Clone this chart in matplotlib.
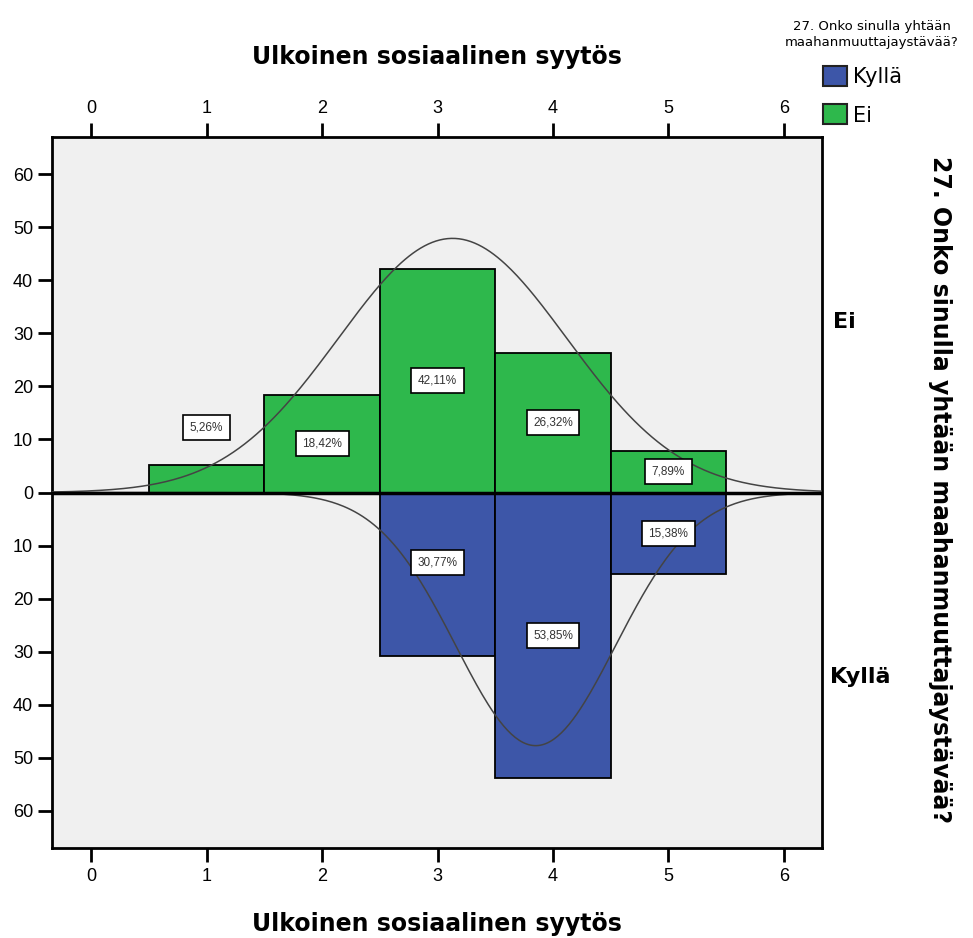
import numpy as np
import matplotlib
matplotlib.use("Agg")
import matplotlib.pyplot as plt
from matplotlib.patches import Patch

plt.rcParams['font.family'] = ['Liberation Sans', 'DejaVu Sans']

# data (percent per score, split by group)
scores = [1, 2, 3, 4, 5]
ei_pct = [5.26, 18.42, 42.11, 26.32, 7.89]
kylla_scores = [3, 4, 5]
kylla_pct = [30.77, 53.85, 15.38]

# fitted normal curves (mean, sd, peak height as seen on the chart)
ei_mean, ei_sd, ei_peak = 3.13, 0.99, 47.9
ky_mean, ky_sd, ky_peak = 3.85, 0.69, 47.7

green = '#2EB84C'
blue = '#3D56A8'
title_font = 'DejaVu Sans'

fig = plt.figure(figsize=(9.73, 9.38), dpi=100)
ax = fig.add_axes([0.0534, 0.0959, 0.7914, 0.758])
ax.set_facecolor('#f0f0f0')

ax.bar(scores, ei_pct, width=1.0, color=green, edgecolor='black', linewidth=1.3, zorder=2)
ax.bar(kylla_scores, [-v for v in kylla_pct], width=1.0, color=blue, edgecolor='black',
       linewidth=1.3, zorder=2)

xs = np.linspace(-0.34, 6.33, 400)
ax.plot(xs, ei_peak * np.exp(-(xs - ei_mean) ** 2 / (2 * ei_sd ** 2)), color='#444444', lw=1.1, zorder=3)
ax.plot(xs, -ky_peak * np.exp(-(xs - ky_mean) ** 2 / (2 * ky_sd ** 2)), color='#444444', lw=1.1, zorder=3)
ax.axhline(0, color='black', lw=2.5, zorder=4)

box = dict(boxstyle='square,pad=0.55', fc='white', ec='black', lw=1.2)
for s, v in zip(scores, ei_pct):
    ly = v / 2 if v > 6 else v + 7
    ax.text(s, ly, f'{v:.2f}%'.replace('.', ','), ha='center', va='center', fontsize=8.5,
            color='#333333', bbox=box, zorder=5)
for s, v in zip(kylla_scores, kylla_pct):
    ly = -v / 2 if v < 30 or v > 50 else -v / 2 + 2.2
    ax.text(s, ly, f'{v:.2f}%'.replace('.', ','), ha='center', va='center', fontsize=8.5,
            color='#333333', bbox=box, zorder=5)

ax.set_xlim(-0.34, 6.33)
ax.set_ylim(-67, 67)
yt = [-60, -50, -40, -30, -20, -10, 0, 10, 20, 30, 40, 50, 60]
ax.set_yticks(yt)
ax.set_yticklabels([str(abs(t)) for t in yt])
ax.set_xticks(range(7))
ax.tick_params(axis='both', direction='out', length=10, width=2, labelsize=13, colors='black')
ax.tick_params(axis='x', top=True, labeltop=True, pad=4.5)
for sp in ax.spines.values():
    sp.set_linewidth(2)

fig.text(0.449, 0.939, 'Ulkoinen sosiaalinen syytös', ha='center', va='center',
         fontsize=17, fontweight='bold', family=title_font)
fig.text(0.449, 0.015, 'Ulkoinen sosiaalinen syytös', ha='center', va='center',
         fontsize=17, fontweight='bold', family=title_font)
fig.text(0.966, 0.478, '27. Onko sinulla yhtään maahanmuuttajaystävää?', rotation=-90,
         ha='center', va='center', fontsize=17, fontweight='bold', family=title_font)
fig.text(0.868, 0.657, 'Ei', ha='center', va='center', fontsize=16, fontweight='bold',
         family=title_font)
fig.text(0.884, 0.278, 'Kyllä', ha='center', va='center', fontsize=16, fontweight='bold',
         family=title_font)

fig.text(0.896, 0.963, '27. Onko sinulla yhtään\nmaahanmuuttajaystävää?', ha='center', va='center',
         fontsize=9.5, linespacing=1.35, family=title_font)
handles = [Patch(facecolor=blue, edgecolor='#222222', lw=1.5),
           Patch(facecolor=green, edgecolor='#222222', lw=1.5)]
fig.legend(handles, ['Kyllä', 'Ei'], loc='upper left', bbox_to_anchor=(0.846, 0.93),
           frameon=False, prop={'family': title_font, 'size': 15}, handlelength=1.15,
           handleheight=1.1, handletextpad=0.3, labelspacing=0.85, borderaxespad=0,
           borderpad=0)

fig.savefig('out.png', dpi=100, facecolor='white')
